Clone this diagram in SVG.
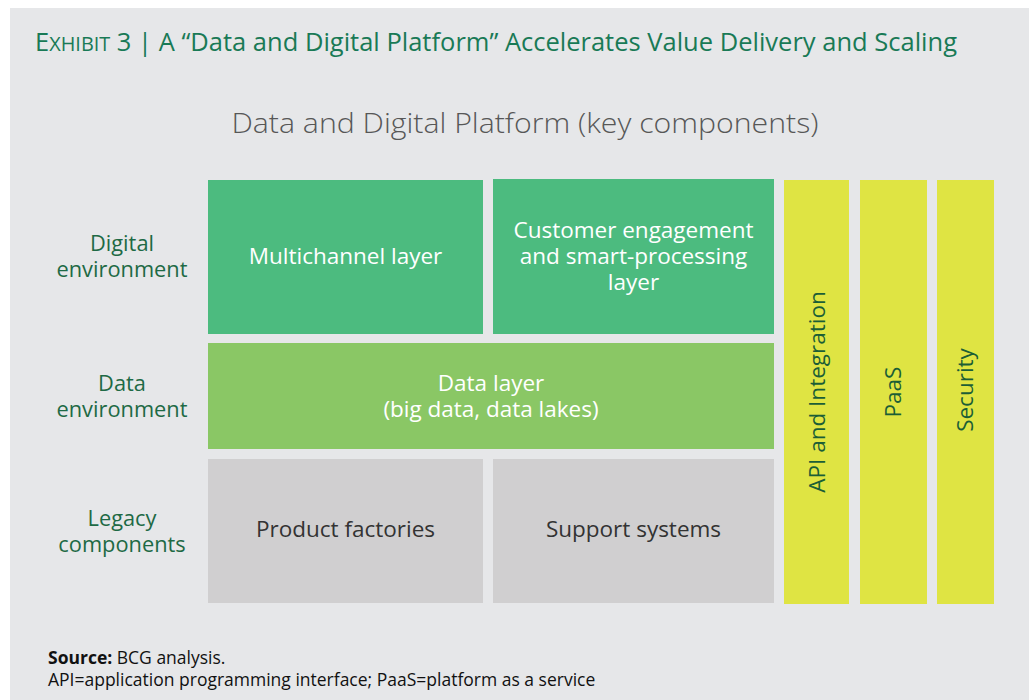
<svg xmlns="http://www.w3.org/2000/svg" width="1029" height="700" viewBox="0 0 1029 700">
  <style>
    .title { font-family: "Open Sans", "Liberation Sans", sans-serif; fill: #197A56; font-size: 25px; }
    .sub { font-family: "Open Sans", "Liberation Sans", sans-serif; font-weight: 300; fill: #575757; font-size: 27px; }
    .row { font-family: "Open Sans", "Liberation Sans", sans-serif; fill: #1E6A45; font-size: 21.8px; text-anchor: middle; }
    .lbl { font-family: "Open Sans", "Liberation Sans", sans-serif; fill: #FFFFFF; font-size: 22.5px; text-anchor: middle; }
    .lbl-dark { font-family: "Open Sans", "Liberation Sans", sans-serif; fill: #333333; font-size: 22.5px; text-anchor: middle; }
    .vlbl { font-family: "Open Sans", "Liberation Sans", sans-serif; fill: #1B5E36; font-size: 22.5px; text-anchor: middle; }
    .note { font-family: "Open Sans", "Liberation Sans", sans-serif; fill: #111111; font-size: 17.5px; }
    .green { fill: #4CBB7F; }
    .lime { fill: #8AC765; }
    .grey { fill: #D0CFD0; }
    .yellow { fill: #DFE443; }
  </style>

  <!-- page and panel -->
  <rect x="0" y="0" width="1029" height="700" fill="#FFFFFF"/>
  <rect x="10" y="8" width="1019" height="692" fill="#E6E7E9"/>

  <!-- heading -->
  <text class="title" x="35" y="51" textLength="922" lengthAdjust="spacingAndGlyphs">E<tspan font-size="19.5">XHIBIT</tspan> 3 | A “Data and Digital Platform” Accelerates Value Delivery and Scaling</text>
  <text class="sub" x="525" y="133" text-anchor="middle" textLength="587" lengthAdjust="spacingAndGlyphs">Data and Digital Platform (key components)</text>

  <!-- row captions -->
  <g id="row-digital">
    <text class="row" x="122" y="251">Digital</text>
    <text class="row" x="122" y="277">environment</text>
  </g>
  <g id="row-data">
    <text class="row" x="122" y="391">Data</text>
    <text class="row" x="122" y="417">environment</text>
  </g>
  <g id="row-legacy">
    <text class="row" x="122" y="526">Legacy</text>
    <text class="row" x="122" y="552">components</text>
  </g>

  <!-- layer blocks -->
  <g id="multichannel">
    <rect class="green" x="208" y="180" width="275" height="154"/>
    <text class="lbl" x="345.5" y="264">Multichannel layer</text>
  </g>
  <g id="customer-engagement">
    <rect class="green" x="493" y="179" width="281" height="155"/>
    <text class="lbl" x="633.5" y="238">Customer engagement</text>
    <text class="lbl" x="633.5" y="264">and smart-processing</text>
    <text class="lbl" x="633.5" y="290">layer</text>
  </g>
  <g id="data-layer">
    <rect class="lime" x="208" y="343" width="566" height="106"/>
    <text class="lbl" x="491" y="391">Data layer</text>
    <text class="lbl" x="491" y="417">(big data, data lakes)</text>
  </g>
  <g id="product-factories">
    <rect class="grey" x="208" y="459" width="275" height="144"/>
    <text class="lbl-dark" x="345.5" y="537">Product factories</text>
  </g>
  <g id="support-systems">
    <rect class="grey" x="493" y="459" width="281" height="144"/>
    <text class="lbl-dark" x="633.5" y="537">Support systems</text>
  </g>

  <!-- vertical cross-cutting pillars -->
  <g id="api-integration">
    <rect class="yellow" x="784" y="180" width="65" height="424"/>
    <text class="vlbl" transform="translate(825 392) rotate(-90)">API and Integration</text>
  </g>
  <g id="paas">
    <rect class="yellow" x="860" y="180" width="67" height="424"/>
    <text class="vlbl" transform="translate(901 392) rotate(-90)">PaaS</text>
  </g>
  <g id="security">
    <rect class="yellow" x="937" y="180" width="57" height="424"/>
    <text class="vlbl" transform="translate(973 390) rotate(-90)">Security</text>
  </g>

  <!-- no connectors in this layered diagram -->
  <g id="connectors"/>

  <!-- footnotes -->
  <text class="note" x="48" y="664"><tspan font-weight="bold">Source:</tspan> BCG analysis.</text>
  <text class="note" x="48" y="686">API=application programming interface; PaaS=platform as a service</text>
</svg>
